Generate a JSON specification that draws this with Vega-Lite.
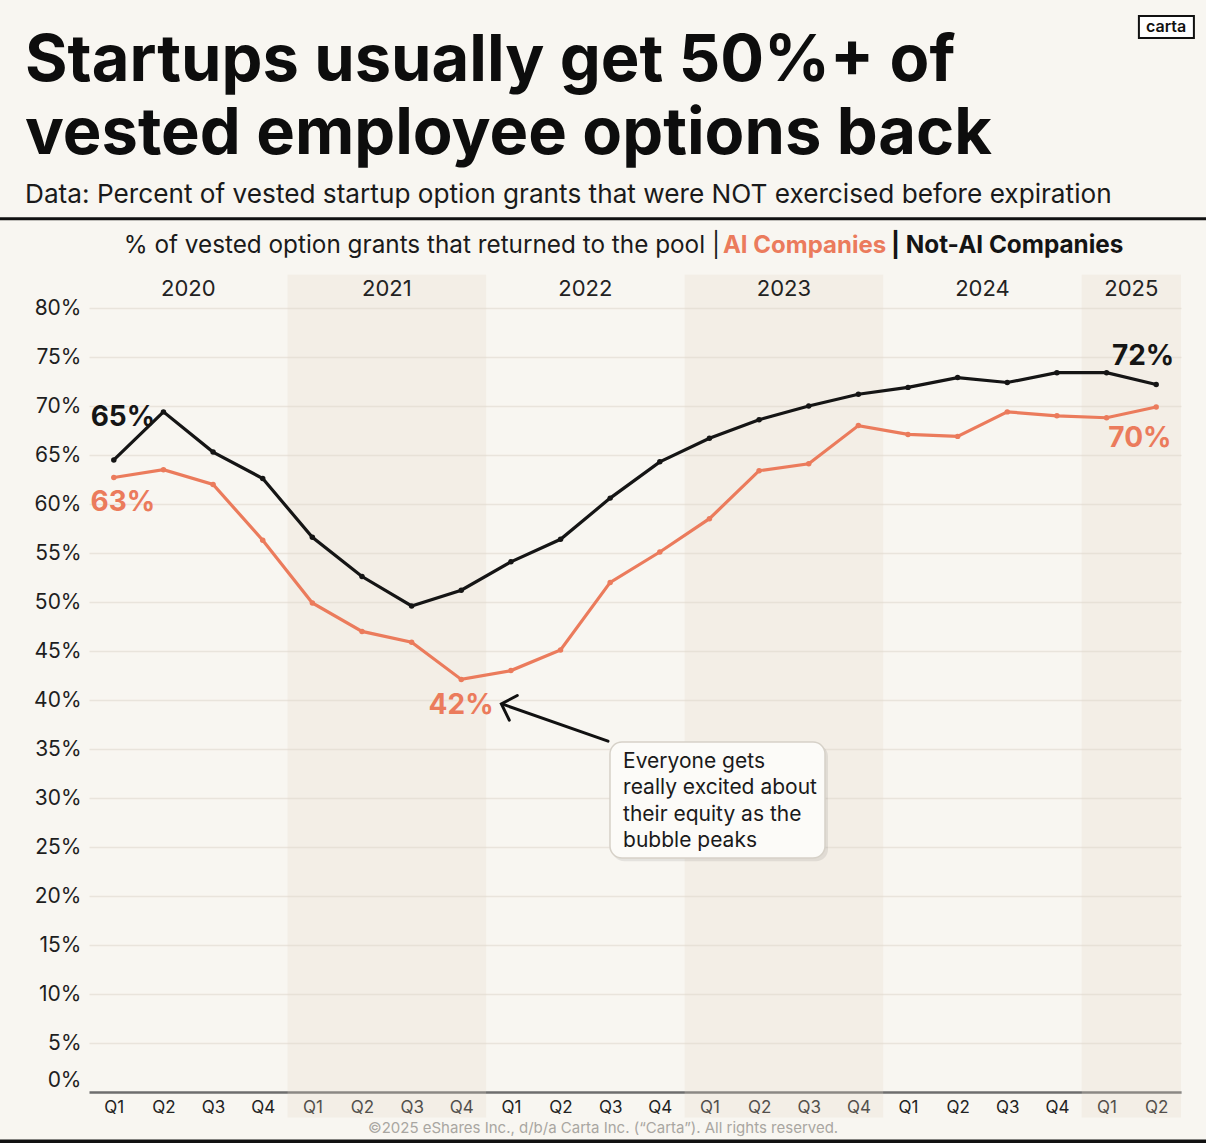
{
  "$schema": "https://vega.github.io/schema/vega-lite/v6.json",
  "width": 1092,
  "height": 784,
  "autosize": {"type": "none"},
  "padding": {"left": 89, "top": 308, "right": 25, "bottom": 51},
  "background": "#f8f6f1",
  "title": {
    "text": ["Startups usually get 50%+ of", "vested employee options back"],
    "subtitle": "Data: Percent of vested startup option grants that were NOT exercised before expiration",
    "anchor": "start",
    "frame": "group",
    "dx": -64,
    "dy": 214,
    "offset": 20,
    "font": "Inter",
    "fontSize": 65,
    "fontWeight": 700,
    "color": "#0d0d0d",
    "lineHeight": 73,
    "subtitleFont": "Inter",
    "subtitleFontSize": 26.2,
    "subtitleColor": "#1a1a1a",
    "subtitlePadding": 14
  },
  "datasets": {
    "series": [
      {"period": 2020.0, "quarter": "Q1", "series": "AI Companies", "value": 62.7},
      {"period": 2020.25, "quarter": "Q2", "series": "AI Companies", "value": 63.5},
      {"period": 2020.5, "quarter": "Q3", "series": "AI Companies", "value": 62.0},
      {"period": 2020.75, "quarter": "Q4", "series": "AI Companies", "value": 56.3},
      {"period": 2021.0, "quarter": "Q1", "series": "AI Companies", "value": 49.9},
      {"period": 2021.25, "quarter": "Q2", "series": "AI Companies", "value": 47.0},
      {"period": 2021.5, "quarter": "Q3", "series": "AI Companies", "value": 45.9},
      {"period": 2021.75, "quarter": "Q4", "series": "AI Companies", "value": 42.1},
      {"period": 2022.0, "quarter": "Q1", "series": "AI Companies", "value": 43.0},
      {"period": 2022.25, "quarter": "Q2", "series": "AI Companies", "value": 45.1},
      {"period": 2022.5, "quarter": "Q3", "series": "AI Companies", "value": 52.0},
      {"period": 2022.75, "quarter": "Q4", "series": "AI Companies", "value": 55.1},
      {"period": 2023.0, "quarter": "Q1", "series": "AI Companies", "value": 58.5},
      {"period": 2023.25, "quarter": "Q2", "series": "AI Companies", "value": 63.4},
      {"period": 2023.5, "quarter": "Q3", "series": "AI Companies", "value": 64.1},
      {"period": 2023.75, "quarter": "Q4", "series": "AI Companies", "value": 68.0},
      {"period": 2024.0, "quarter": "Q1", "series": "AI Companies", "value": 67.1},
      {"period": 2024.25, "quarter": "Q2", "series": "AI Companies", "value": 66.9},
      {"period": 2024.5, "quarter": "Q3", "series": "AI Companies", "value": 69.4},
      {"period": 2024.75, "quarter": "Q4", "series": "AI Companies", "value": 69.0},
      {"period": 2025.0, "quarter": "Q1", "series": "AI Companies", "value": 68.8},
      {"period": 2025.25, "quarter": "Q2", "series": "AI Companies", "value": 69.9},
      {"period": 2020.0, "quarter": "Q1", "series": "Not-AI Companies", "value": 64.5},
      {"period": 2020.25, "quarter": "Q2", "series": "Not-AI Companies", "value": 69.4},
      {"period": 2020.5, "quarter": "Q3", "series": "Not-AI Companies", "value": 65.3},
      {"period": 2020.75, "quarter": "Q4", "series": "Not-AI Companies", "value": 62.6},
      {"period": 2021.0, "quarter": "Q1", "series": "Not-AI Companies", "value": 56.6},
      {"period": 2021.25, "quarter": "Q2", "series": "Not-AI Companies", "value": 52.6},
      {"period": 2021.5, "quarter": "Q3", "series": "Not-AI Companies", "value": 49.6},
      {"period": 2021.75, "quarter": "Q4", "series": "Not-AI Companies", "value": 51.2},
      {"period": 2022.0, "quarter": "Q1", "series": "Not-AI Companies", "value": 54.1},
      {"period": 2022.25, "quarter": "Q2", "series": "Not-AI Companies", "value": 56.4},
      {"period": 2022.5, "quarter": "Q3", "series": "Not-AI Companies", "value": 60.6},
      {"period": 2022.75, "quarter": "Q4", "series": "Not-AI Companies", "value": 64.3},
      {"period": 2023.0, "quarter": "Q1", "series": "Not-AI Companies", "value": 66.7},
      {"period": 2023.25, "quarter": "Q2", "series": "Not-AI Companies", "value": 68.6},
      {"period": 2023.5, "quarter": "Q3", "series": "Not-AI Companies", "value": 70.0},
      {"period": 2023.75, "quarter": "Q4", "series": "Not-AI Companies", "value": 71.2},
      {"period": 2024.0, "quarter": "Q1", "series": "Not-AI Companies", "value": 71.9},
      {"period": 2024.25, "quarter": "Q2", "series": "Not-AI Companies", "value": 72.9},
      {"period": 2024.5, "quarter": "Q3", "series": "Not-AI Companies", "value": 72.4},
      {"period": 2024.75, "quarter": "Q4", "series": "Not-AI Companies", "value": 73.4},
      {"period": 2025.0, "quarter": "Q1", "series": "Not-AI Companies", "value": 73.4},
      {"period": 2025.25, "quarter": "Q2", "series": "Not-AI Companies", "value": 72.2}
    ],
    "shaded": [
      {"year": 2021, "from": 2020.875, "to": 2021.875},
      {"year": 2023, "from": 2022.875, "to": 2023.875},
      {"year": 2025, "from": 2024.875, "to": 2025.375}
    ],
    "years": [
      {"year": "2020", "mid": 2020.375},
      {"year": "2021", "mid": 2021.375},
      {"year": "2022", "mid": 2022.375},
      {"year": "2023", "mid": 2023.375},
      {"year": "2024", "mid": 2024.375},
      {"year": "2025", "mid": 2025.125}
    ]
  },
  "layer": [
    {
      "data": {"name": "shaded"},
      "mark": {"type": "rect", "color": "#e4d6c9", "opacity": 0.25},
      "encoding": {
        "x": {"field": "from", "type": "quantitative", "title": null},
        "x2": {"field": "to"},
        "y": {"datum": 83.4, "type": "quantitative", "title": null},
        "y2": {"datum": -2.6}
      }
    },
    {
      "data": {"name": "series"},
      "mark": {"type": "line", "strokeWidth": 3.2},
      "encoding": {
        "x": {
          "field": "period",
          "type": "quantitative",
          "title": null,
          "scale": {"domain": [2019.875, 2025.375], "nice": false, "zero": false},
          "axis": {
            "values": [2020, 2020.25, 2020.5, 2020.75, 2021, 2021.25, 2021.5, 2021.75, 2022, 2022.25, 2022.5, 2022.75, 2023, 2023.25, 2023.5, 2023.75, 2024, 2024.25, 2024.5, 2024.75, 2025, 2025.25],
            "labelExpr": "'Q' + (round((datum.value - floor(datum.value)) * 4) + 1)",
            "grid": false,
            "ticks": false,
            "domain": true,
            "domainColor": "#6e6e6e",
            "domainWidth": 2.5,
            "offset": 0,
            "labelPadding": 7,
            "labelFontSize": 17,
            "labelColor": "#222222",
            "labelFont": "Inter"
          }
        },
        "y": {
          "field": "value",
          "type": "quantitative",
          "title": null,
          "scale": {"domain": [0, 80], "nice": false},
          "axis": {
            "values": [0, 5, 10, 15, 20, 25, 30, 35, 40, 45, 50, 55, 60, 65, 70, 75, 80],
            "labelExpr": "datum.value + '%'",
            "domain": false,
            "ticks": false,
            "grid": true,
            "gridColor": "#e9e4dc",
            "gridWidth": 1.5,
            "gridOpacity": {"condition": {"test": "datum.value === 0", "value": 0}, "value": 1},
            "labelOffset": {"condition": {"test": "datum.value === 0", "value": -12}, "value": 0},
            "labelPadding": 8,
            "labelFontSize": 21,
            "labelColor": "#1e1e1e",
            "labelFont": "Inter"
          }
        },
        "color": {
          "field": "series",
          "type": "nominal",
          "scale": {"domain": ["AI Companies", "Not-AI Companies"], "range": ["#eb7b5c", "#151515"]},
          "legend": null
        }
      }
    },
    {
      "data": {"name": "series"},
      "mark": {"type": "point", "filled": true, "size": 30, "opacity": 1},
      "encoding": {
        "x": {"field": "period", "type": "quantitative", "title": null},
        "y": {"field": "value", "type": "quantitative", "title": null},
        "color": {"field": "series", "type": "nominal", "legend": null}
      }
    },
    {
      "data": {"name": "years"},
      "mark": {"type": "text", "fontSize": 22, "font": "Inter", "color": "#222222", "align": "center", "baseline": "middle"},
      "encoding": {
        "x": {"field": "mid", "type": "quantitative", "title": null},
        "y": {"datum": 81.94, "type": "quantitative", "title": null},
        "text": {"field": "year"}
      }
    },
    {
      "data": {"values": [{}]},
      "layer": [
        {
          "mark": {"type": "rule", "color": "#111111", "strokeWidth": 3},
          "encoding": {
            "x": {"datum": 2019.42, "type": "quantitative", "title": null},
            "x2": {"datum": 2025.51},
            "y": {"datum": 89.1, "type": "quantitative", "title": null}
          }
        },
        {
          "mark": {"type": "rule", "color": "#111111", "strokeWidth": 4},
          "encoding": {
            "x": {"datum": 2019.42, "type": "quantitative", "title": null},
            "x2": {"datum": 2025.51},
            "y": {"datum": -5.05, "type": "quantitative", "title": null}
          }
        },
        {
          "mark": {"type": "text", "text": "% of vested option grants that returned to the pool |", "fontSize": 24.3, "font": "Inter", "color": "#1a1a1a", "align": "right", "baseline": "middle"},
          "encoding": {
            "x": {"datum": 2023.053, "type": "quantitative", "title": null},
            "y": {"datum": 86.33, "type": "quantitative", "title": null}
          }
        },
        {
          "mark": {"type": "text", "text": "AI Companies", "fontSize": 24, "font": "Inter", "fontWeight": 700, "color": "#eb7b5c", "align": "left", "baseline": "middle"},
          "encoding": {
            "x": {"datum": 2023.068, "type": "quantitative", "title": null},
            "y": {"datum": 86.33, "type": "quantitative", "title": null}
          }
        },
        {
          "mark": {"type": "text", "text": "| Not-AI Companies", "fontSize": 24.3, "font": "Inter", "fontWeight": 700, "color": "#141414", "align": "left", "baseline": "middle"},
          "encoding": {
            "x": {"datum": 2023.914, "type": "quantitative", "title": null},
            "y": {"datum": 86.33, "type": "quantitative", "title": null}
          }
        },
        {
          "mark": {"type": "text", "text": "65%", "fontSize": 28, "font": "Inter", "fontWeight": 700, "color": "#151515", "align": "center", "baseline": "middle"},
          "encoding": {
            "x": {"datum": 2020.046, "type": "quantitative", "title": null},
            "y": {"datum": 68.78, "type": "quantitative", "title": null}
          }
        },
        {
          "mark": {"type": "text", "text": "63%", "fontSize": 28, "font": "Inter", "fontWeight": 700, "color": "#eb7b5c", "align": "center", "baseline": "middle"},
          "encoding": {
            "x": {"datum": 2020.046, "type": "quantitative", "title": null},
            "y": {"datum": 60.1, "type": "quantitative", "title": null}
          }
        },
        {
          "mark": {"type": "text", "text": "42%", "fontSize": 28, "font": "Inter", "fontWeight": 700, "color": "#eb7b5c", "align": "center", "baseline": "middle"},
          "encoding": {
            "x": {"datum": 2021.749, "type": "quantitative", "title": null},
            "y": {"datum": 39.39, "type": "quantitative", "title": null}
          }
        },
        {
          "mark": {"type": "text", "text": "72%", "fontSize": 28, "font": "Inter", "fontWeight": 700, "color": "#151515", "align": "center", "baseline": "middle"},
          "encoding": {
            "x": {"datum": 2025.184, "type": "quantitative", "title": null},
            "y": {"datum": 75.0, "type": "quantitative", "title": null}
          }
        },
        {
          "mark": {"type": "text", "text": "70%", "fontSize": 28, "font": "Inter", "fontWeight": 700, "color": "#eb7b5c", "align": "center", "baseline": "middle"},
          "encoding": {
            "x": {"datum": 2025.168, "type": "quantitative", "title": null},
            "y": {"datum": 66.63, "type": "quantitative", "title": null}
          }
        },
        {
          "mark": {"type": "rule", "color": "#111111", "strokeWidth": 3, "strokeCap": "round"},
          "encoding": {
            "x": {"datum": 2022.489, "type": "quantitative", "title": null},
            "x2": {"datum": 2021.962},
            "y": {"datum": 35.8, "type": "quantitative", "title": null},
            "y2": {"datum": 39.55}
          }
        },
        {
          "mark": {"type": "point", "shape": "M1.4,-1.45L0,0L1.4,1.45", "filled": false, "stroke": "#111111", "strokeWidth": 3, "strokeCap": "round", "strokeJoin": "miter", "size": 320, "angle": 18, "opacity": 1},
          "encoding": {
            "x": {"datum": 2021.952, "type": "quantitative", "title": null},
            "y": {"datum": 39.6, "type": "quantitative", "title": null}
          }
        },
        {
          "mark": {"type": "rect", "color": "#000000", "opacity": 0.08, "cornerRadius": 12},
          "encoding": {
            "x": {"datum": 2022.51, "type": "quantitative", "title": null},
            "x2": {"datum": 2023.597},
            "y": {"datum": 35.45, "type": "quantitative", "title": null},
            "y2": {"datum": 23.55}
          }
        },
        {
          "mark": {"type": "rect", "fill": "#fcfbf8", "stroke": "#d6d1c8", "strokeWidth": 1.5, "cornerRadius": 12},
          "encoding": {
            "x": {"datum": 2022.499, "type": "quantitative", "title": null},
            "x2": {"datum": 2023.582},
            "y": {"datum": 35.71, "type": "quantitative", "title": null},
            "y2": {"datum": 23.88}
          }
        },
        {
          "mark": {"type": "text", "text": ["Everyone gets", "really excited about", "their equity as the", "bubble peaks"], "fontSize": 21, "font": "Inter", "color": "#1a1a1a", "align": "left", "baseline": "top", "lineHeight": 26.3},
          "encoding": {
            "x": {"datum": 2022.565, "type": "quantitative", "title": null},
            "y": {"datum": 34.8, "type": "quantitative", "title": null}
          }
        },
        {
          "mark": {"type": "text", "text": "©2025 eShares Inc., d/b/a Carta Inc. (“Carta”). All rights reserved.", "fontSize": 15, "font": "Inter", "color": "#a9a6a1", "align": "center", "baseline": "middle"},
          "encoding": {
            "x": {"datum": 2022.464, "type": "quantitative", "title": null},
            "y": {"datum": -3.67, "type": "quantitative", "title": null}
          }
        },
        {
          "mark": {"type": "rect", "fill": "#ffffff", "stroke": "#111111", "strokeWidth": 2},
          "encoding": {
            "x": {"datum": 2025.163, "type": "quantitative", "title": null},
            "x2": {"datum": 2025.44},
            "y": {"datum": 109.8, "type": "quantitative", "title": null},
            "y2": {"datum": 107.55}
          }
        },
        {
          "mark": {"type": "text", "text": "carta", "fontSize": 16, "font": "Inter", "fontWeight": 600, "color": "#111111", "align": "center", "baseline": "middle"},
          "encoding": {
            "x": {"datum": 2025.3, "type": "quantitative", "title": null},
            "y": {"datum": 108.67, "type": "quantitative", "title": null}
          }
        }
      ]
    }
  ],
  "config": {
    "view": {"stroke": null},
    "font": "Inter"
  }
}
